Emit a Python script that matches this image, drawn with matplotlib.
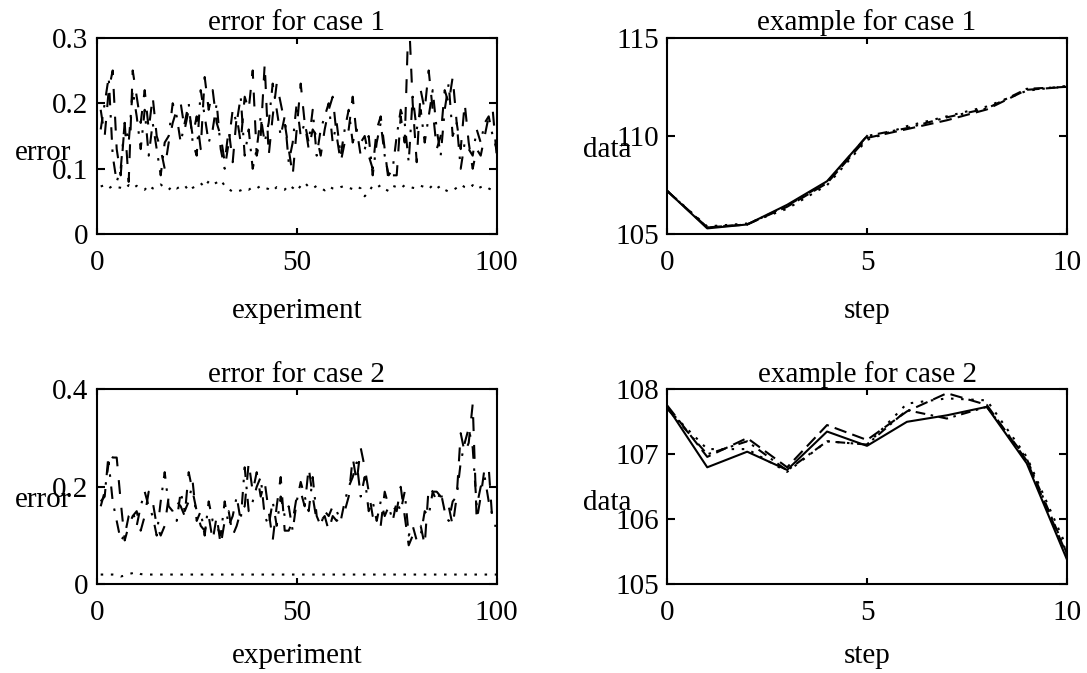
import numpy as np
import matplotlib
matplotlib.use("Agg")
import matplotlib.pyplot as plt

plt.rcParams['font.family'] = ['Liberation Serif', 'DejaVu Serif']
plt.rcParams['lines.scale_dashes'] = False
FS = 21

# ---------------- data ----------------
experiment = np.arange(1, 101)

err1_a = [0.19, 0.15, 0.22, 0.25, 0.13, 0.09, 0.17, 0.08, 0.25, 0.21,
          0.17, 0.22, 0.16, 0.21, 0.15, 0.13, 0.10, 0.14, 0.17, 0.19,
          0.20, 0.16, 0.19, 0.15, 0.18, 0.13, 0.24, 0.19, 0.22, 0.17,
          0.15, 0.11, 0.16, 0.11, 0.18, 0.14, 0.21, 0.19, 0.25, 0.12,
          0.15, 0.26, 0.12, 0.18, 0.23, 0.20, 0.17, 0.13, 0.09, 0.16,
          0.23, 0.17, 0.13, 0.16, 0.15, 0.12, 0.16, 0.19, 0.21, 0.15,
          0.11, 0.14, 0.16, 0.21, 0.15, 0.14, 0.15, 0.12, 0.10, 0.16,
          0.18, 0.13, 0.08, 0.09, 0.09, 0.18, 0.14, 0.34, 0.20, 0.11,
          0.22, 0.19, 0.25, 0.19, 0.13, 0.15, 0.22, 0.20, 0.24, 0.17,
          0.13, 0.20, 0.14, 0.10, 0.13, 0.12, 0.15, 0.18, 0.19, 0.12]
err1_b = [0.16, 0.20, 0.24, 0.12, 0.08, 0.10, 0.17, 0.14, 0.22, 0.18,
          0.13, 0.19, 0.12, 0.17, 0.13, 0.09, 0.14, 0.15, 0.20, 0.18,
          0.14, 0.17, 0.20, 0.14, 0.12, 0.22, 0.18, 0.14, 0.16, 0.20,
          0.13, 0.10, 0.14, 0.19, 0.17, 0.21, 0.12, 0.16, 0.10, 0.13,
          0.18, 0.14, 0.17, 0.23, 0.19, 0.15, 0.18, 0.11, 0.14, 0.20,
          0.15, 0.17, 0.14, 0.19, 0.12, 0.16, 0.18, 0.20, 0.14, 0.17,
          0.12, 0.16, 0.19, 0.14, 0.16, 0.12, 0.13, 0.15, 0.09, 0.14,
          0.17, 0.12, 0.09, 0.10, 0.15, 0.19, 0.17, 0.11, 0.21, 0.16,
          0.19, 0.14, 0.18, 0.22, 0.16, 0.12, 0.19, 0.23, 0.15, 0.17,
          0.10, 0.14, 0.13, 0.12, 0.16, 0.14, 0.17, 0.18, 0.15, 0.13]
err1_c = [0.073, 0.075, 0.070, 0.074, 0.072, 0.071, 0.069, 0.075, 0.070, 0.074,
          0.071, 0.068, 0.075, 0.070, 0.072, 0.076, 0.071, 0.068, 0.074, 0.070,
          0.073, 0.075, 0.066, 0.071, 0.074, 0.078, 0.072, 0.081, 0.076, 0.079,
          0.083, 0.074, 0.069, 0.065, 0.065, 0.067, 0.070, 0.068, 0.072, 0.070,
          0.074, 0.071, 0.069, 0.066, 0.072, 0.070, 0.068, 0.075, 0.071, 0.066,
          0.074, 0.079, 0.072, 0.070, 0.074, 0.071, 0.067, 0.073, 0.070, 0.069,
          0.072, 0.074, 0.071, 0.069, 0.073, 0.070, 0.058, 0.065, 0.074, 0.071,
          0.075, 0.069, 0.066, 0.074, 0.072, 0.070, 0.075, 0.073, 0.071, 0.070,
          0.074, 0.072, 0.069, 0.075, 0.070, 0.074, 0.068, 0.065, 0.067, 0.071,
          0.076, 0.072, 0.070, 0.075, 0.069, 0.072, 0.074, 0.070, 0.067, 0.066]

err2_a = [0.17, 0.18, 0.27, 0.26, 0.26, 0.17, 0.09, 0.12, 0.14, 0.15,
          0.11, 0.14, 0.19, 0.17, 0.12, 0.10, 0.12, 0.18, 0.17, 0.17,
          0.16, 0.14, 0.23, 0.19, 0.15, 0.12, 0.11, 0.14, 0.09, 0.14,
          0.08, 0.13, 0.15, 0.10, 0.12, 0.15, 0.16, 0.25, 0.19, 0.23,
          0.18, 0.21, 0.15, 0.09, 0.16, 0.22, 0.11, 0.11, 0.13, 0.18,
          0.19, 0.16, 0.24, 0.18, 0.13, 0.13, 0.14, 0.11, 0.14, 0.13,
          0.14, 0.15, 0.18, 0.26, 0.21, 0.28, 0.24, 0.19, 0.14, 0.12,
          0.12, 0.19, 0.16, 0.16, 0.15, 0.20, 0.14, 0.08, 0.10, 0.11,
          0.12, 0.08, 0.20, 0.19, 0.19, 0.18, 0.18, 0.16, 0.12, 0.18,
          0.31, 0.27, 0.29, 0.37, 0.13, 0.18, 0.24, 0.24, 0.12, 0.12]
err2_b = [0.16, 0.19, 0.25, 0.17, 0.13, 0.09, 0.10, 0.14, 0.15, 0.12,
          0.16, 0.19, 0.16, 0.14, 0.10, 0.17, 0.23, 0.16, 0.15, 0.13,
          0.19, 0.15, 0.17, 0.21, 0.13, 0.15, 0.10, 0.17, 0.13, 0.12,
          0.10, 0.17, 0.12, 0.14, 0.18, 0.13, 0.24, 0.15, 0.17, 0.20,
          0.22, 0.14, 0.12, 0.17, 0.12, 0.18, 0.14, 0.16, 0.11, 0.17,
          0.21, 0.18, 0.15, 0.22, 0.14, 0.12, 0.15, 0.14, 0.16, 0.15,
          0.13, 0.17, 0.20, 0.22, 0.25, 0.18, 0.22, 0.15, 0.17, 0.13,
          0.17, 0.14, 0.16, 0.13, 0.17, 0.15, 0.19, 0.10, 0.12, 0.09,
          0.10, 0.15, 0.14, 0.19, 0.17, 0.19, 0.15, 0.13, 0.17, 0.18,
          0.25, 0.29, 0.32, 0.28, 0.16, 0.20, 0.22, 0.17, 0.14, 0.13]
err2_c = [0.020, 0.020, 0.020, 0.020, 0.019, 0.016, 0.018, 0.021, 0.023, 0.025,
          0.021] + [0.020] * 89

steps = np.arange(0, 11)
ex1_solid = [107.2, 105.3, 105.5, 106.5, 107.7, 110.0] + [np.nan] * 5
ex1_dash = [107.2, 105.35, 105.5, 106.4, 107.6, 109.9, 110.35, 110.8, 111.35, 112.35, 112.5]
ex1_dot = [107.2, 105.4, 105.55, 106.3, 107.5, 109.8, 110.5, 111.0, 111.5, 112.3, 112.55]
ex1_dashdot = [107.2, 105.35, 105.5, 106.45, 107.65, 110.0, 110.4, 110.95, 111.4, 112.4, 112.5]

ex2_solid = [107.73, 106.8, 107.04, 106.76, 107.35, 107.13, 107.5, 107.6, 107.73, 106.86, 105.39]
ex2_dash = [107.75, 106.96, 107.25, 106.8, 107.45, 107.22, 107.66, 107.94, 107.76, 106.9, 105.46]
ex2_dot = [107.7, 107.08, 107.08, 106.73, 107.2, 107.15, 107.78, 107.86, 107.83, 106.96, 105.57]
ex2_dashdot = [107.7, 107.0, 107.2, 106.75, 107.2, 107.15, 107.68, 107.55, 107.73, 106.93, 105.48]

# ---------------- styles ----------------
DASHED = (0, (9, 4.5))
DOTTED = (0, (1.8, 5.5))
DASHDOT = (0, (7, 4, 1.8, 4))
E_DASHED = (0, (10, 10))
E_DASHDOT = (0, (9, 7, 1.8, 7))
LW = 1.5

fig = plt.figure(figsize=(10.87, 6.73), dpi=100)

W, H = 1087.0, 673.0
def add_ax(x0, x1, y0, y1):
    return fig.add_axes([x0 / W, 1 - y1 / H, (x1 - x0) / W, (y1 - y0) / H])

ax1 = add_ax(96.7, 496.7, 37.7, 234.3)
ax2 = add_ax(667.3, 1066.7, 37.7, 234.3)
ax3 = add_ax(96.7, 496.7, 389.3, 584.3)
ax4 = add_ax(667.3, 1066.7, 389.3, 584.3)

def style(ax, title, xlabel, ylabel, xlim, ylim, xticks, yticks, ylab_x, ylab_y, xlab_y):
    ax.set_xlim(*xlim)
    ax.set_ylim(*ylim)
    ax.set_xticks(xticks)
    ax.set_yticks(yticks)
    ax.set_xticklabels([f"{t:g}" for t in xticks])
    ax.set_yticklabels([f"{t:g}" for t in yticks])
    for s in ax.spines.values():
        s.set_linewidth(1.5)
    ax.tick_params(axis='x', direction='in', length=4, width=1.5, top=True,
                   labelsize=FS, pad=11.5)
    ax.tick_params(axis='y', direction='in', length=6, width=1.5, right=True,
                   labelsize=FS, pad=6)
    ax.set_title(title, fontsize=FS, pad=5.5)
    ax.set_xlabel(xlabel, fontsize=FS, va='baseline')
    ax.xaxis.set_label_coords(0.5, xlab_y)
    ax.set_ylabel(ylabel, fontsize=FS, rotation=0, ha='right', va='baseline')
    ax.yaxis.set_label_coords(ylab_x, ylab_y)

ax1.plot(experiment, err1_a, color='black', lw=LW, linestyle=E_DASHED)
ax1.plot(experiment, err1_b, color='black', lw=LW, linestyle=E_DASHDOT)
ax1.plot(experiment, err1_c, color='black', lw=LW, linestyle=DOTTED)
style(ax1, 'error for case 1', 'experiment', 'error', (0, 100), (0, 0.3),
      [0, 50, 100], [0, 0.1, 0.2, 0.3], -0.0625, 0.378, -0.426)

ax2.plot(steps, ex1_solid, color='black', lw=LW, linestyle='-')
ax2.plot(steps, ex1_dash, color='black', lw=LW, linestyle=DASHED)
ax2.plot(steps, ex1_dot, color='black', lw=LW, linestyle=DOTTED)
ax2.plot(steps, ex1_dashdot, color='black', lw=LW, linestyle=DASHDOT)
style(ax2, 'example for case 1', 'step', 'data', (0, 10), (105, 115),
      [0, 5, 10], [105, 110, 115], -0.089, 0.395, -0.426)

ax3.plot(experiment, err2_a, color='black', lw=LW, linestyle=E_DASHED)
ax3.plot(experiment, err2_b, color='black', lw=LW, linestyle=E_DASHDOT)
ax3.plot(experiment, err2_c, color='black', lw=LW, linestyle=DOTTED)
style(ax3, 'error for case 2', 'experiment', 'error', (0, 100), (0, 0.4),
      [0, 50, 100], [0, 0.2, 0.4], -0.0625, 0.398, -0.404)

ax4.plot(steps, ex2_solid, color='black', lw=LW, linestyle='-')
ax4.plot(steps, ex2_dash, color='black', lw=LW, linestyle=DASHED)
ax4.plot(steps, ex2_dot, color='black', lw=LW, linestyle=DOTTED)
ax4.plot(steps, ex2_dashdot, color='black', lw=LW, linestyle=DASHDOT)
style(ax4, 'example for case 2', 'step', 'data', (0, 10), (105, 108),
      [0, 5, 10], [105, 106, 107, 108], -0.089, 0.379, -0.404)

fig.savefig('out.png', dpi=100)
